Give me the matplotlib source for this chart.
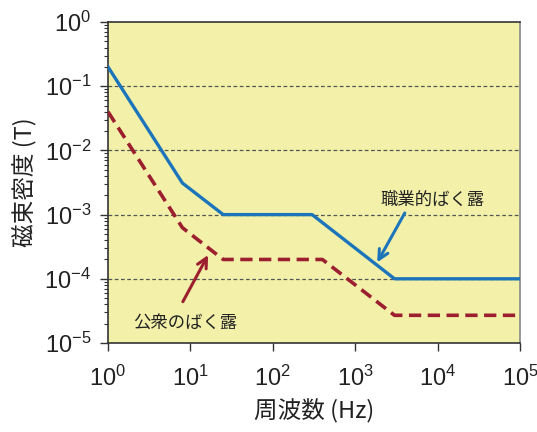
import math
import matplotlib
matplotlib.use("Agg")
import matplotlib.pyplot as plt
from matplotlib import font_manager
from matplotlib.ticker import LogLocator, FuncFormatter

names = {f.name for f in font_manager.fontManager.ttflist}
num_font = "Liberation Sans Narrow" if "Liberation Sans Narrow" in names else "Liberation Sans"

plt.rcParams['font.family'] = ['Noto Sans CJK JP', 'DejaVu Sans']
plt.rcParams['mathtext.fontset'] = 'custom'
plt.rcParams['mathtext.rm'] = num_font
plt.rcParams['mathtext.it'] = num_font
plt.rcParams['mathtext.bf'] = num_font + ':bold'
plt.rcParams['mathtext.default'] = 'rm'

# Reference levels for magnetic flux density (breakpoints)
freq_occ = [1, 8, 25, 300, 3000, 1e5]
b_occ = [0.2, 3.1e-3, 1e-3, 1e-3, 1e-4, 1e-4]

freq_pub = [1, 8, 25, 400, 3000, 1e5]
b_pub = [4e-2, 6.25e-4, 2e-4, 2e-4, 2.7e-5, 2.7e-5]

label_occ = "職業的ばく露"
label_pub = "公衆のばく露"
xlabel = "周波数 (Hz)"
ylabel = "磁束密度 (T)"

fig = plt.figure(figsize=(5.37, 4.32), dpi=100)
ax = fig.add_axes([108/537, 1 - 343/432, (520-108)/537, (343-22)/432])
ax.set_facecolor("#f3f1a9")

ax.set_xscale("log")
ax.set_yscale("log")
ax.set_xlim(1, 1e5)
ax.set_ylim(1e-5, 1)

for y in [1e-1, 1e-2, 1e-3, 1e-4]:
    ax.axhline(y, color="#555555", lw=0.9, ls=(0, (3, 2)), zorder=1)

ax.plot(freq_occ, b_occ, color="#1c74bb", lw=2.4, zorder=3)
ax.plot(freq_pub, b_pub, color="#9b1f2e", lw=2.6, ls=(0, (3.4, 1.8)), zorder=3)

# Labels and pointer arrows
ax.text(2.0e3, 1.7e-3, label_occ, fontsize=12.5, color="#222222",
        ha="left", va="center")
ax.annotate("", xy=(1.85e3, 1.8e-4), xytext=(4.0e3, 1.06e-3),
            arrowprops=dict(arrowstyle="->,head_length=0.7,head_width=0.35",
                            color="#1c74bb", lw=2.2, shrinkA=0, shrinkB=0))
ax.text(2.0, 2.05e-5, label_pub, fontsize=12.5, color="#222222",
        ha="left", va="center")
ax.annotate("", xy=(16.4, 2.35e-4), xytext=(8.1, 4.4e-5),
            arrowprops=dict(arrowstyle="->,head_length=0.7,head_width=0.35",
                            color="#9b1f2e", lw=2.2, shrinkA=0, shrinkB=0))

ax.xaxis.set_major_locator(LogLocator(base=10, numticks=10))
ax.xaxis.set_minor_locator(LogLocator(base=10, subs=[], numticks=10))
ax.yaxis.set_major_locator(LogLocator(base=10, numticks=10))
ax.yaxis.set_minor_locator(LogLocator(base=10, subs=range(2, 10), numticks=10))

sup = FuncFormatter(lambda v, p: r"$10^{%d}$" % round(math.log10(v)))
ax.xaxis.set_major_formatter(sup)
ax.yaxis.set_major_formatter(sup)

ax.tick_params(which="major", direction="out", length=6, width=1, labelsize=17,
               color="#333333", labelcolor="#222222")
ax.tick_params(which="minor", direction="out", length=3, width=0.8, color="#333333")
ax.tick_params(axis="x", pad=10)
ax.tick_params(axis="y", pad=6)

for s in ["left", "bottom", "top"]:
    ax.spines[s].set_color("#333333")
    ax.spines[s].set_linewidth(1.2)
ax.spines["right"].set_color("#888888")
ax.spines["right"].set_linewidth(1.2)

ax.set_xlabel(xlabel, fontsize=17, labelpad=6, color="#222222")
ax.set_ylabel(ylabel, fontsize=17, labelpad=5, color="#222222")

fig.savefig("out.png", dpi=100)
